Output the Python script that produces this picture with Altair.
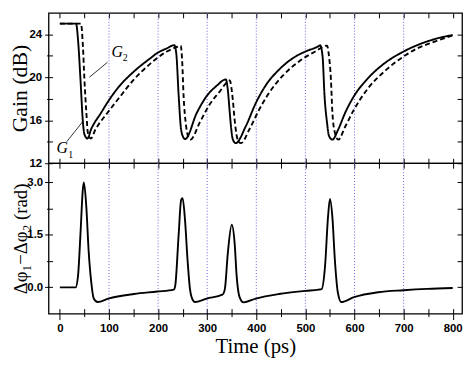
import altair as alt
import pandas as pd

# ---------------- data ----------------
# Gain G1 (solid)
t_g1 = [0, 33, 37, 42, 47, 50, 56, 64, 84, 99, 118, 151, 185, 198, 218, 233,
        237, 242, 246, 250, 255, 279, 299, 319, 338, 342, 346, 349, 352, 358,
        379, 399, 420, 446, 480, 500, 527, 530, 535, 539, 544, 548, 555,
        567, 581, 599, 628, 661, 700, 728, 762, 800]
g1 = [25.0, 25.0, 23.5, 19.8, 15.8, 14.7, 14.3, 15.2, 16.7, 17.8, 19.0, 20.55, 21.8, 22.25, 22.7, 23.0,
      22.25, 18.25, 15.5, 14.55, 14.25, 16.7, 18.25, 19.2, 19.8, 18.85, 16.7, 15.2, 14.25, 13.87,
      15.48, 17.6, 19.3, 20.7, 21.94, 22.4, 22.9, 22.98, 21.94, 18.25, 15.8, 14.55, 14.2,
      15.16, 16.7, 18.25, 19.94, 21.3, 22.4, 23.0, 23.54, 23.94]

# Gain G2 (dashed)
t_g2 = [0, 43, 47, 50, 54, 57, 63, 72, 97, 118, 151, 185, 218, 237, 246,
        249, 252, 257, 262, 266, 285, 305, 326, 346, 352, 356, 360, 364, 369,
        386, 406, 426, 453, 487, 520, 544, 548, 552, 555, 560, 567,
        581, 599, 628, 661, 700, 728, 762, 800]
g2 = [25.0, 25.0, 22.86, 19.8, 16.7, 14.86, 14.3, 15.1, 16.7, 17.93, 19.8, 21.3, 22.4, 22.8, 22.95,
      21.6, 18.25, 15.5, 14.4, 14.2, 15.8, 17.47, 18.7, 19.7, 18.0, 16.0, 14.6, 14.0, 13.87,
      15.16, 17.0, 18.55, 20.1, 21.48, 22.4, 22.95, 22.0, 19.8, 16.7, 14.86, 14.2,
      15.4, 17.0, 19.0, 20.55, 21.94, 22.7, 23.3, 23.9]

# Phase difference
t_ph = [0, 32, 37, 42, 47, 49, 54, 58.5, 64, 69, 77, 99, 151, 198, 232,
        235, 242, 247, 250, 255, 260, 265, 271, 275, 299, 331,
        336, 342, 350, 356, 360, 366, 374, 399, 446, 500, 527,
        533, 540, 546, 550, 555, 560, 566, 573, 599, 648, 700, 748, 800]
ph = [0, 0, 0.33, 1.53, 2.83, 3.0, 2.28, 1.07, 0.14, -0.32, -0.42, -0.32, -0.19, -0.12, -0.065,
      0.05, 1.53, 2.5, 2.55, 1.9, 0.79, -0.05, -0.37, -0.42, -0.32, -0.21,
      -0.05, 0.97, 1.79, 1.25, 0.33, -0.28, -0.43, -0.32, -0.19, -0.1, -0.065,
      -0.05, 0.6, 2.0, 2.53, 2.0, 0.79, -0.14, -0.42, -0.28, -0.14, -0.083, -0.045, -0.02]

# ticks / grid
x_major = [0, 100, 200, 300, 400, 500, 600, 700, 800]
x_minor = [50, 150, 250, 350, 450, 550, 650, 750]
grid_t = [100, 200, 300, 400, 500, 600, 700]
gain_major = [12, 16, 20, 24]
gain_minor = [14, 18, 22]
phase_major = [0.0, 1.5, 3.0]
phase_minor = [0.75, 2.25]

# annotations
ann_t = [117, 5]
ann_v = [22.35, 13.4]
ann_txt = ["G", "G"]
sub_t = [133, 22]
sub_v = [21.75, 12.75]
sub_txt = ["2", "1"]
lead_t = [97, 14]
lead_v = [21.4, 14.0]
lead_t2 = [60, 47]
lead_v2 = [20.0, 15.9]

# ---------------- frames ----------------
df_gain = pd.DataFrame({
    "t": t_g1 + t_g2,
    "v": g1 + g2,
    "s": ["G1"] * len(t_g1) + ["G2"] * len(t_g2),
})
df_ph = pd.DataFrame({"t": t_ph, "v": ph})
df_grid = pd.DataFrame({"t": grid_t})
df_ann = pd.DataFrame({"t": ann_t, "v": ann_v, "txt": ann_txt})
df_sub = pd.DataFrame({"t": sub_t, "v": sub_v, "txt": sub_txt})
df_lead = pd.DataFrame({"t": lead_t, "v": lead_v, "t2": lead_t2, "v2": lead_v2})

W, H = 418, 152
xs = alt.Scale(domain=[-23, 819], nice=False, zero=False)
ys_gain = alt.Scale(domain=[12, 26], nice=False, zero=False)
ys_ph = alt.Scale(domain=[-0.75, 3.55], nice=False, zero=False)

LABEL = dict(labelFont="Liberation Sans", labelFontWeight="bold", labelFontSize=11.5,
             labelColor="black", tickColor="black", tickWidth=1, domain=False, grid=False,
             labelOverlap=False, labelFlush=False)
TITLE = dict(titleFont="Liberation Serif", titleFontWeight="normal", titleColor="black")


def inward(orient, values):
    return alt.Axis(orient=orient, values=values, labels=False, title=None, domain=False,
                    grid=False, tickSize=5, offset=-5, tickColor="black", tickWidth=1)


def grid_layer():
    return alt.Chart(df_grid).mark_rule(color="#6464e0", strokeDash=[1, 2], strokeWidth=1).encode(
        x=alt.X("t:Q", scale=xs, axis=None))


# ---------------- top panel ----------------
lines_top = alt.Chart(df_gain).mark_line(color="black", strokeWidth=1.9, interpolate="monotone").encode(
    x=alt.X("t:Q", scale=xs, axis=inward("bottom", x_major + x_minor)),
    y=alt.Y("v:Q", scale=ys_gain, axis=alt.Axis(
        orient="left", values=gain_major + gain_minor,
        labelExpr="datum.value % 4 == 0 ? datum.label : ''",
        tickSize={"condition": {"test": "datum.value % 4 != 0", "value": 6}, "value": 8},
        offset=-4, labelPadding=3, title="Gain (dB)", titleFontSize=22, titlePadding=-3,
        **LABEL, **TITLE)),
    strokeDash=alt.StrokeDash("s:N", scale=alt.Scale(domain=["G1", "G2"], range=[[1, 0], [5, 3]]),
                              legend=None),
    detail="s:N",
)
frame_top = alt.Chart(df_gain).mark_point(opacity=0).encode(
    x=alt.X("t:Q", scale=xs, axis=inward("top", x_major + x_minor)),
    y=alt.Y("v:Q", scale=ys_gain, axis=inward("right", gain_major + gain_minor)),
)
ann = alt.Chart(df_ann).mark_text(font="Liberation Serif", fontStyle="italic", fontSize=16,
                                  color="black").encode(
    x=alt.X("t:Q", scale=xs, axis=None), y=alt.Y("v:Q", scale=ys_gain, axis=None), text="txt:N")
sub = alt.Chart(df_sub).mark_text(font="Liberation Serif", fontSize=10, color="black").encode(
    x=alt.X("t:Q", scale=xs, axis=None), y=alt.Y("v:Q", scale=ys_gain, axis=None), text="txt:N")
lead = alt.Chart(df_lead).mark_rule(color="black", strokeWidth=0.8).encode(
    x=alt.X("t:Q", scale=xs, axis=None), y=alt.Y("v:Q", scale=ys_gain, axis=None),
    x2="t2:Q", y2="v2:Q")

top = alt.layer(grid_layer(), lines_top, frame_top, lead, ann, sub).resolve_axis(
    x="independent", y="independent").properties(width=W, height=H)

# ---------------- bottom panel ----------------
line_ph = alt.Chart(df_ph).mark_line(color="black", strokeWidth=1.9, interpolate="monotone").encode(
    x=alt.X("t:Q", scale=xs, axis=alt.Axis(
        orient="bottom", values=x_major + x_minor,
        labelExpr="datum.value % 100 == 0 ? datum.label : ''",
        tickSize={"condition": {"test": "datum.value % 100 != 0", "value": 8}, "value": 11},
        offset=-5, labelPadding=3, title="Time (ps)", titleFontSize=21, titlePadding=2,
        **LABEL, **TITLE)),
    y=alt.Y("v:Q", scale=ys_ph, axis=alt.Axis(
        orient="left", values=phase_major + phase_minor, format=".1f",
        labelExpr="datum.value % 1.5 == 0 ? datum.label : ''",
        tickSize={"condition": {"test": "datum.value % 1.5 != 0", "value": 6}, "value": 8},
        offset=-4, labelPadding=2, title="Δφ₁−Δφ₂ (rad)", titleFontSize=19, titlePadding=-4,
        **LABEL, **TITLE)),
)
frame_bot = alt.Chart(df_ph).mark_point(opacity=0).encode(
    x=alt.X("t:Q", scale=xs, axis=inward("top", x_major + x_minor)),
    y=alt.Y("v:Q", scale=ys_ph, axis=inward("right", phase_major + phase_minor)),
)
bottom = alt.layer(grid_layer(), line_ph, frame_bot).resolve_axis(
    x="independent", y="independent").properties(width=W, height=H)

chart = alt.vconcat(top, bottom, spacing=0).properties(
    bounds="flush", padding={"left": 0, "top": 1, "right": 2, "bottom": 0}, background="white"
).configure_view(stroke="black", strokeWidth=1.3)

chart.save("out.html", embed_options={"renderer": "svg", "actions": False})
